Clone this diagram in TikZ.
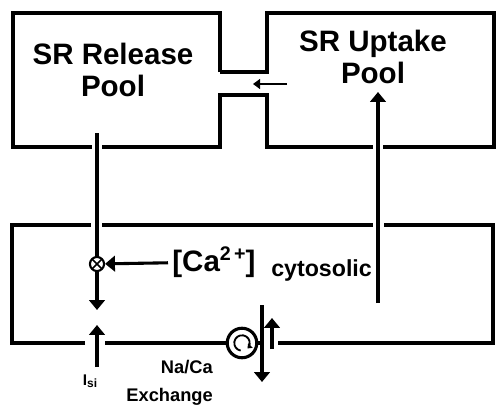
\documentclass[tikz,border=0pt]{standalone}
\usepackage{fontspec}
\setmainfont{Liberation Sans}
\usetikzlibrary{arrows.meta}

\begin{document}
\begin{tikzpicture}[
    x=0.025cm, y=-0.025cm,
    line width=2.2pt,
    >={Triangle[width=11pt,length=7pt]},
    pool/.style={font=\bfseries\fontsize{21}{22.5}\selectfont, align=center},
    lbl/.style={font=\bfseries\fontsize{13}{19.5}\selectfont}
]
\useasboundingbox (0,0) rectangle (496,408);

% SR compartments
\draw (220,72) -- (220,13) -- (13,13) -- (13,147) -- (92,147);
\draw (102,147) -- (220,147) -- (220,95) -- (267,95) -- (267,147) -- (373,147);
\draw (383,147) -- (494,147) -- (494,13) -- (267,13) -- (267,72) -- (220,72);

\node[pool] (release) at (113,70) {SR Release\\Pool};
\node[pool] (uptake) at (373,57) {SR Uptake\\Pool};

\coordinate (chanR) at (287,84);
\coordinate (chanL) at (253,84);
\draw[->, line width=1.6pt, >={Triangle[width=7pt,length=5pt]}] (chanR) -- (chanL);

% cell
\draw (85,343) -- (12,343) -- (12,225) -- (91,225);
\draw (102,225) -- (373,225);
\draw (384,225) -- (493,225) -- (493,343) -- (278,343);

\coordinate (relout) at (97,133);
\coordinate (relin) at (97,310);
\node[draw, circle, line width=1.5pt, inner sep=0pt, minimum size=10pt,
      path picture={
        \draw[line width=1.2pt] (path picture bounding box.north west) -- (path picture bounding box.south east);
        \draw[line width=1.2pt] (path picture bounding box.north east) -- (path picture bounding box.south west);
      }] (mult) at (97,264) {};
\draw (relout) -- (mult);
\draw[->] (mult) -- (relin);

\node[anchor=west, pool, inner sep=2pt] (ca) at (168,262)
    {[Ca\raisebox{8pt}{\fontsize{14}{15}\selectfont 2\,+}]};
\node[anchor=base west, font=\bfseries\fontsize{16.5}{18}\selectfont, inner sep=0pt]
    (cyto) at ([xshift=7pt,yshift=-3.5pt]ca.base east) {cytosolic};
\draw[->] (ca) -- (mult);

\coordinate (upstart) at (378,303);
\coordinate (upend) at (378,92);
\draw[->] (upstart) -- (upend);

\coordinate (isibot) at (97,367);
\coordinate (isitop) at (97,325);
\draw[->] (isibot) -- (isitop);
\node[font=\bfseries\fontsize{11}{12}\selectfont, inner sep=0pt] (isi) at (90,381)
    {I\raisebox{-1.5pt}{\fontsize{8.5}{9}\selectfont si}};

\coordinate (cellL) at (105,343);
\coordinate (exch) at (262,343);
\node[draw, circle, line width=2.2pt, inner sep=0pt, minimum size=21pt] (pump) at (242,343) {};
\draw[line width=1.3pt, -{Triangle[width=4.5pt,length=3pt]}]
    ([shift={(260:5.5pt)}]pump.center) arc[start angle=260, end angle=-45, radius=5.5pt];
\draw (cellL) -- (pump);
\draw (pump) -- (exch);

\coordinate (extop) at (262,305);
\coordinate (exbot) at (262,382);
\draw[->] (extop) -- (exbot);
\coordinate (inbot) at (272,349);
\coordinate (intop) at (272,318);
\draw[->] (inbot) -- (intop);

\node[lbl, anchor=east, align=right] (nacx) at (219,383) {Na/Ca\\Exchange};

\end{tikzpicture}
\end{document}
